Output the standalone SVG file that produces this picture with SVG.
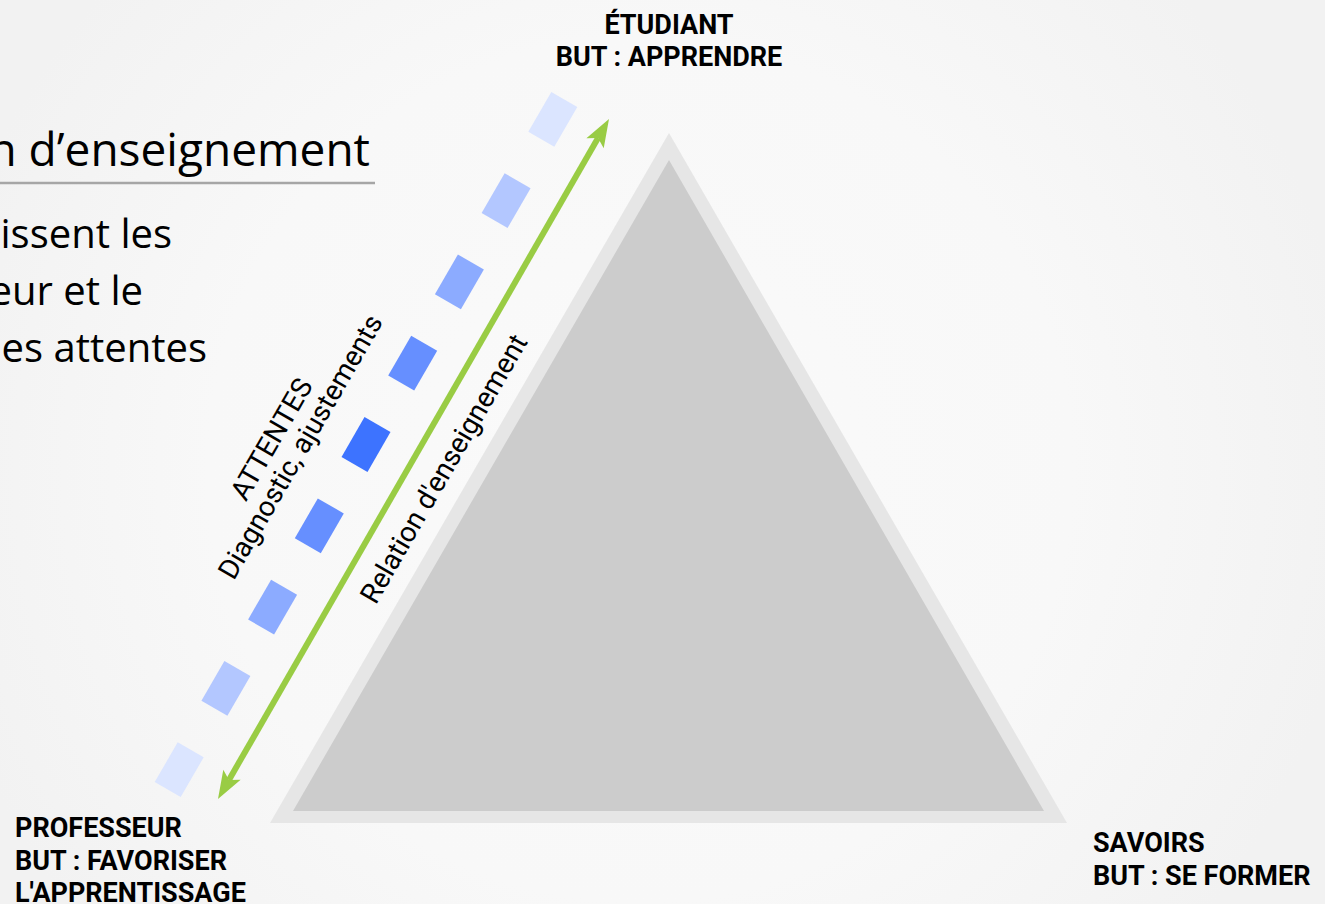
<svg xmlns="http://www.w3.org/2000/svg" width="1325" height="904" viewBox="0 0 1325 904">
<defs>
<radialGradient id="bg" cx="640" cy="470" r="720" gradientUnits="userSpaceOnUse">
<stop offset="0" stop-color="#fafafa"/>
<stop offset="0.6" stop-color="#f8f8f8"/>
<stop offset="1" stop-color="#f2f2f2"/>
</radialGradient>
<style>
.lbl{font-family:Roboto,"Liberation Sans",sans-serif;font-weight:bold;font-size:27px;fill:#000}
.rot{font-family:Roboto,"Liberation Sans",sans-serif;font-size:28px;fill:#000}
.slide{font-family:"Open Sans","Noto Sans",sans-serif;fill:#000}
.blk{stroke:none}
</style>
</defs>
<rect width="1325" height="904" fill="url(#bg)"/>

<g id="slide-text">
<text class="slide" x="370" y="166" font-size="46" text-anchor="end">n d’enseignement</text>
<line x1="0" y1="183" x2="375" y2="183" stroke="#a6a6a6" stroke-width="2.5"/>
<text class="slide" x="172" y="248" font-size="40" text-anchor="end">issent les</text>
<text class="slide" x="143" y="305" font-size="40" text-anchor="end">eur et le</text>
<text class="slide" x="207" y="362" font-size="40" text-anchor="end">es attentes</text>
</g>

<g id="triangle">
<polygon points="669,133 1067,823 270,823" fill="#e6e6e6"/>
<polygon points="669,160 1044,811 293,811" fill="#cccccc"/>
</g>

<g id="attentes-blocks">
<rect class="blk" x="-23" y="-15" width="46" height="30" fill="#dbe5ff" transform="translate(552.8,119.3) rotate(-60)"/>
<rect class="blk" x="-23" y="-15" width="46" height="30" fill="#b3c7ff" transform="translate(506.1,200.6) rotate(-60)"/>
<rect class="blk" x="-23" y="-15" width="46" height="30" fill="#8cabff" transform="translate(459.4,281.9) rotate(-60)"/>
<rect class="blk" x="-23" y="-15" width="46" height="30" fill="#668fff" transform="translate(412.7,363.2) rotate(-60)"/>
<rect class="blk" x="-23" y="-15" width="46" height="30" fill="#3d73ff" transform="translate(366,444.5) rotate(-60)"/>
<rect class="blk" x="-23" y="-15" width="46" height="30" fill="#668fff" transform="translate(319.3,525.8) rotate(-60)"/>
<rect class="blk" x="-23" y="-15" width="46" height="30" fill="#8cabff" transform="translate(272.6,607.1) rotate(-60)"/>
<rect class="blk" x="-23" y="-15" width="46" height="30" fill="#b3c7ff" transform="translate(225.9,688.4) rotate(-60)"/>
<rect class="blk" x="-23" y="-15" width="46" height="30" fill="#dbe5ff" transform="translate(179.2,769.7) rotate(-60)"/>
</g>

<g id="connectors">
<line x1="228.97" y1="779.93" x2="598.03" y2="138.07" stroke="#99cc44" stroke-width="6"/>
<polygon points="609,119 603.71,148.26 598.03,138.07 586.37,138.28" fill="#99cc44"/>
<polygon points="218,799 223.29,769.75 228.97,779.93 240.63,779.72" fill="#99cc44"/>
</g>

<g id="relation-label">
<text class="rot" text-anchor="middle" transform="translate(452,473.5) rotate(-60)">Relation d'enseignement</text>
</g>

<g id="attentes-label">
<text class="rot" text-anchor="middle" transform="translate(279.8,443.8) rotate(-60)">ATTENTES</text>
<text class="rot" text-anchor="middle" transform="translate(308.6,451.5) rotate(-60)">Diagnostic, ajustements</text>
</g>

<g id="etudiant">
<text class="lbl" x="669" y="34" text-anchor="middle">ÉTUDIANT</text>
<text class="lbl" x="669" y="66" text-anchor="middle">BUT : APPRENDRE</text>
</g>

<g id="professeur">
<text class="lbl" x="15" y="837">PROFESSEUR</text>
<text class="lbl" x="15" y="870">BUT : FAVORISER</text>
<text class="lbl" x="15" y="902">L'APPRENTISSAGE</text>
</g>

<g id="savoirs">
<text class="lbl" x="1093" y="852">SAVOIRS</text>
<text class="lbl" x="1093" y="885">BUT : SE FORMER</text>
</g>
</svg>
